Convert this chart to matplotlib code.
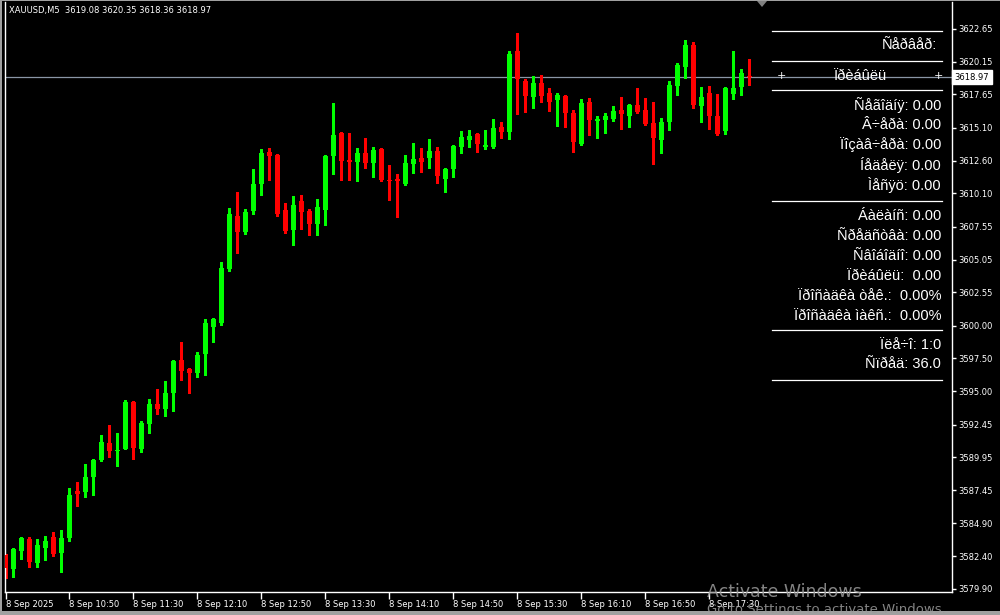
import matplotlib

matplotlib.use("Agg")
import matplotlib.pyplot as plt
from matplotlib.patches import Polygon, Rectangle

# XAUUSD M5, 8 Sep 2025 10:10 .. 17:55
opens = [
    3582.49, 3581.42, 3582.80, 3583.71, 3581.88, 3583.03, 3583.87, 3582.64, 3583.79, 3587.38,
    3587.31, 3588.45, 3589.75, 3591.05, 3590.44, 3590.59, 3594.18, 3590.59, 3592.50, 3594.02,
    3593.64, 3594.86, 3597.38, 3596.69, 3596.39, 3597.84, 3599.90, 3600.20, 3604.33, 3608.38,
    3607.16, 3608.76, 3610.82, 3613.26, 3613.03, 3608.84, 3607.31, 3609.52, 3608.76, 3607.77,
    3608.84, 3612.96, 3614.71, 3612.65, 3612.50, 3613.18, 3612.42, 3613.49, 3611.12, 3611.20,
    3610.82, 3612.35, 3612.80, 3612.80, 3613.34, 3611.20, 3611.96, 3613.64, 3614.18, 3614.64,
    3613.64, 3613.64, 3615.17, 3614.79, 3620.97, 3618.68, 3617.46, 3618.53, 3617.76, 3617.23,
    3617.54, 3616.24, 3613.87, 3617.08, 3615.63, 3615.70, 3615.78, 3616.47, 3616.01, 3616.85,
    3616.47, 3615.47, 3614.18, 3615.55, 3618.30, 3619.75, 3621.43, 3616.77, 3617.76, 3616.01,
    3614.86, 3617.69, 3618.22, 3619.08]
highs = [
    3582.55, 3583.03, 3583.87, 3583.87, 3583.71, 3583.94, 3584.25, 3584.40, 3587.61, 3588.07,
    3589.44, 3589.80, 3591.66, 3592.42, 3591.81, 3594.33, 3594.25, 3592.73, 3594.41, 3595.17,
    3595.78, 3597.38, 3598.75, 3596.75, 3597.99, 3600.51, 3600.55, 3604.87, 3608.99, 3610.21,
    3608.91, 3611.96, 3613.49, 3613.57, 3613.11, 3609.37, 3609.90, 3609.98, 3608.91, 3609.68,
    3613.00, 3617.00, 3614.75, 3614.71, 3613.57, 3614.33, 3613.64, 3613.53, 3612.27, 3611.58,
    3613.03, 3613.95, 3613.57, 3614.26, 3613.64, 3612.03, 3613.80, 3614.86, 3614.94, 3614.68,
    3614.94, 3615.78, 3615.55, 3620.97, 3622.35, 3618.83, 3619.06, 3619.14, 3618.15, 3617.76,
    3617.61, 3616.47, 3617.31, 3617.38, 3616.01, 3616.24, 3616.77, 3617.46, 3616.90, 3618.15,
    3617.38, 3617.08, 3615.86, 3618.68, 3620.05, 3621.81, 3621.66, 3618.22, 3618.30, 3617.69,
    3618.20, 3620.97, 3619.60, 3620.35]
lows = [
    3580.76, 3580.81, 3582.19, 3581.58, 3581.58, 3582.11, 3582.42, 3581.19, 3583.56, 3586.23,
    3586.93, 3587.08, 3589.67, 3589.98, 3589.29, 3590.55, 3589.83, 3590.36, 3591.81, 3593.26,
    3593.11, 3593.49, 3595.85, 3594.86, 3596.08, 3596.24, 3598.75, 3600.05, 3604.18, 3605.55,
    3607.00, 3608.53, 3609.98, 3611.12, 3608.38, 3607.08, 3606.17, 3607.39, 3606.93, 3606.93,
    3607.69, 3611.58, 3611.12, 3611.12, 3611.05, 3612.03, 3611.35, 3611.05, 3609.60, 3608.30,
    3610.74, 3611.66, 3611.73, 3612.03, 3610.89, 3610.21, 3611.35, 3613.18, 3613.64, 3613.26,
    3613.49, 3613.57, 3614.33, 3614.26, 3616.16, 3616.31, 3616.62, 3617.08, 3616.39, 3615.25,
    3615.17, 3613.26, 3613.80, 3614.56, 3614.33, 3614.71, 3615.63, 3615.02, 3615.17, 3616.24,
    3615.32, 3612.35, 3613.18, 3614.94, 3617.61, 3618.91, 3616.62, 3615.55, 3615.02, 3614.56,
    3614.64, 3617.31, 3617.61, 3618.36]
closes = [
    3581.52, 3582.95, 3583.79, 3581.96, 3583.26, 3583.56, 3582.57, 3583.79, 3587.08, 3587.15,
    3588.45, 3589.75, 3591.12, 3590.44, 3590.51, 3594.18, 3590.67, 3592.57, 3594.02, 3593.64,
    3594.86, 3597.30, 3596.54, 3596.39, 3597.76, 3600.20, 3600.51, 3604.41, 3608.53, 3607.16,
    3608.68, 3610.82, 3613.18, 3612.96, 3608.53, 3607.24, 3609.22, 3608.68, 3607.77, 3609.07,
    3612.96, 3614.56, 3612.57, 3612.50, 3613.18, 3612.42, 3613.41, 3611.12, 3611.05, 3611.05,
    3612.42, 3612.73, 3612.50, 3613.34, 3611.43, 3611.96, 3613.72, 3614.41, 3614.48, 3613.87,
    3613.80, 3615.09, 3614.79, 3620.74, 3618.83, 3617.54, 3618.53, 3617.54, 3617.08, 3617.61,
    3616.24, 3614.03, 3617.00, 3615.70, 3615.78, 3616.01, 3616.39, 3616.16, 3616.85, 3616.31,
    3615.40, 3614.33, 3615.55, 3618.38, 3619.90, 3621.43, 3616.85, 3617.46, 3616.01, 3614.64,
    3618.15, 3618.15, 3619.29, 3618.97]

time_ticks = list(range(0, 96, 8))
time_labels = ["8 Sep 2025", "8 Sep 10:50", "8 Sep 11:30", "8 Sep 12:10", "8 Sep 12:50",
               "8 Sep 13:30", "8 Sep 14:10", "8 Sep 14:50", "8 Sep 15:30", "8 Sep 16:10",
               "8 Sep 16:50", "8 Sep 17:30"]
price_ticks = [3622.65, 3620.15, 3617.65, 3615.10, 3612.60, 3610.10, 3607.55, 3605.05,
               3602.55, 3600.00, 3597.50, 3595.00, 3592.45, 3589.95, 3587.45, 3584.90,
               3582.40, 3579.90]

symbol = "XAUUSD,M5"

# info panel (cp1251 text shown as cp1252, like on the terminal)
panel_title = "Ñåðâåð:"
panel_profit = "Ïðèáûëü"
block1 = ["Ñåãîäíÿ: 0.00", "Â÷åðà: 0.00", "Ïîçàâ÷åðà: 0.00", "Íåäåëÿ: 0.00", "Ìåñÿö: 0.00"]
block2 = ["Áàëàíñ: 0.00", "Ñðåäñòâà: 0.00", "Ñâîáîäíî: 0.00", "Ïðèáûëü:  0.00",
          "Ïðîñàäêà òåê.:  0.00%", "Ïðîñàäêà ìàêñ.:  0.00%"]
block3 = ["Ïëå÷î: 1:0", "Ñïðåä: 36.0"]

UP = "#00ff00"
DOWN = "#ff0000"
W, H = 1000, 615

fig = plt.figure(figsize=(W / 100, H / 100), dpi=100, facecolor="black")

# main chart axes, pixel box x 4.5..952.5, y 2..592
ax = fig.add_axes([4.5 / W, 23 / H, 948 / W, 590 / H])
ax.set_facecolor("black")
n = len(closes)
xs = list(range(n))
ax.set_xlim(-0.125, 118.375)
ax.set_ylim(3579.67, 3624.71)

colors = [UP if c >= o else DOWN for o, c in zip(opens, closes)]
ax.vlines(xs, lows, highs, colors=colors, linewidth=0.75, antialiased=False, zorder=2)
bottoms = [min(o, c) for o, c in zip(opens, closes)]
heights = [max(abs(c - o), 0.08) for o, c in zip(opens, closes)]
ax.bar(xs, heights, bottom=bottoms, width=0.62, color=colors, linewidth=0,
       antialiased=False, zorder=3)

last = closes[-1]
ax.axhline(last, color="#8a96a6", linewidth=0.9, zorder=1)
ax.text(1.002, last, f"{last:.2f}", transform=ax.get_yaxis_transform(), ha="left",
        va="center", fontsize=6, color="black", clip_on=False,
        bbox=dict(boxstyle="square,pad=0.3", fc="white", ec="white"))

for s in ("left", "right", "bottom"):
    ax.spines[s].set_color("white")
    ax.spines[s].set_linewidth(1)
ax.spines["top"].set_visible(False)

ax.yaxis.tick_right()
ax.set_yticks(price_ticks)
ax.set_yticklabels([f"{p:.2f}" for p in price_ticks])
ax.set_xticks(time_ticks)
ax.set_xticklabels(time_labels, ha="left")
ax.tick_params(axis="y", colors="white", length=3, width=1, labelsize=6, pad=1.5)
ax.tick_params(axis="x", colors="white", length=5, width=1, labelsize=6, pad=1)

# overlay in pixel coordinates for the terminal decorations
ov = fig.add_axes([0, 0, 1, 1])
ov.set_xlim(0, W)
ov.set_ylim(H, 0)
ov.axis("off")
ov.patch.set_alpha(0)

ov.add_patch(Rectangle((0, 0), 2, H, color="#a0a0a0", lw=0))
ov.add_patch(Rectangle((0, 0), W, 1, color="#a0a0a0", lw=0))
ov.add_patch(Rectangle((0, 611), W, 4, color="#a0a0a0", lw=0))
ov.add_patch(Polygon([(757, 1), (767, 1), (762, 7)], closed=True, color="#808080", lw=0))

ov.text(9, 11, f"{symbol}  {opens[-1]:.2f} {highs[-1]:.2f} {lows[-1]:.2f} {closes[-1]:.2f}",
        color="white", fontsize=6, va="center", ha="left")

# info panel
for y in (31, 61, 90, 201, 330, 380):
    ov.plot([772, 942], [y, y], color="white", linewidth=0.9)
pf = dict(color="white", fontsize=10.5, family="Liberation Sans", ha="right", va="center")
ov.text(937, 45, panel_title, **pf)
ov.text(860, 76, panel_profit, **{**pf, "ha": "center"})
ov.text(781, 76, "+", color="white", fontsize=8, ha="center", va="center")
ov.text(938, 76, "+", color="white", fontsize=8, ha="center", va="center")
for i, s in enumerate(block1):
    ov.text(941, 105 + 20 * i, s, **pf)
for i, s in enumerate(block2):
    ov.text(941, 216 + 20 * i, s, **pf)
for i, s in enumerate(block3):
    ov.text(941, 345 + 19.5 * i, s, **pf)

# windows activation watermark (second line sits partly below the window edge)
ov.text(707, 592, "Activate Windows", color="#9a9a9a", fontsize=12.5, alpha=0.85,
        ha="left", va="center")
ov.text(707, 610, "Go to Settings to activate Windows.", color="#9a9a9a", fontsize=9.5,
        alpha=0.85, ha="left", va="center")

fig.savefig("out.png", dpi=100, facecolor="black")
